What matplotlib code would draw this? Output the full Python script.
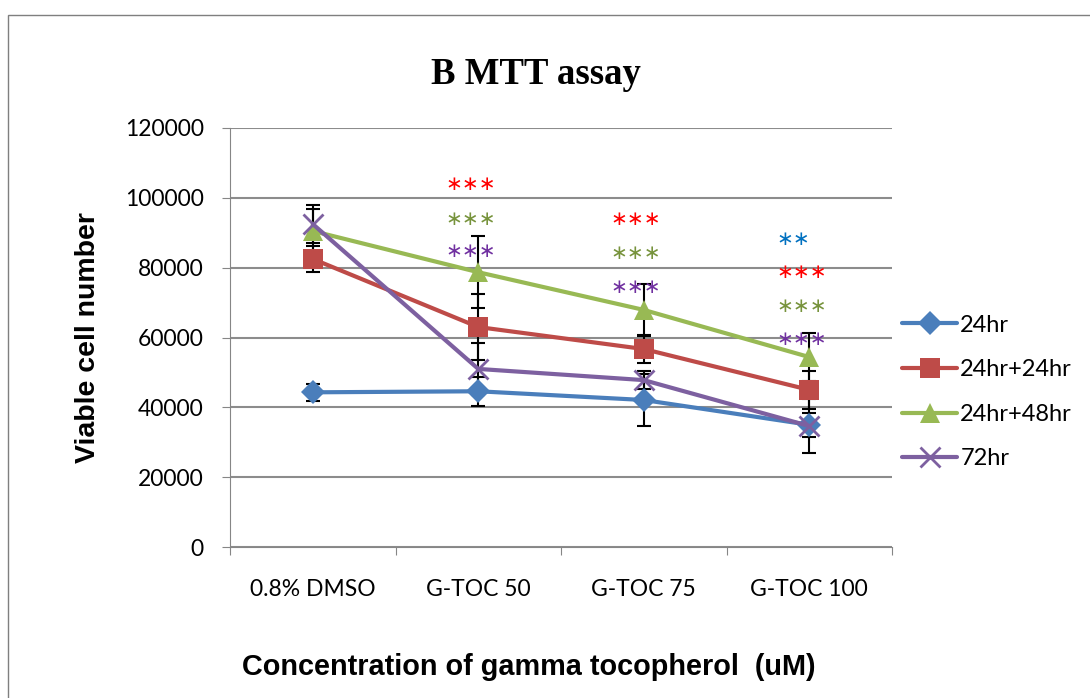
import matplotlib.pyplot as plt
from matplotlib.patches import Rectangle

categories = ["0.8% DMSO", "G-TOC 50", "G-TOC 75", "G-TOC 100"]
series_names = ["24hr", "24hr+24hr", "24hr+48hr", "72hr"]
vals_24 = [44300, 44600, 42100, 35000]
vals_24_24 = [82500, 63000, 56700, 45000]
vals_24_48 = [90500, 78700, 67900, 54400]
vals_72 = [92500, 51000, 47800, 34650]
err_24 = [2500, 4200, 7400, 3500]
err_24_24 = [3700, 9500, 4000, 5400]
err_24_48 = [6300, 10300, 7400, 6900]
err_72 = [5400, 7400, 2500, 7700]

# significance marks: (category index, y, text, colour)
stars_x = [1, 1, 1, 2, 2, 2, 3, 3, 3, 3]
stars_y = [103700, 93900, 84500, 93900, 84200, 74200, 88200, 78500, 69000, 59300]
stars_txt = ["\u2217\u2217\u2217"] * 6 + ["\u2217\u2217"] + ["\u2217\u2217\u2217"] * 3
stars_col = ["#FF0000", "#77933C", "#7030A0", "#FF0000", "#77933C", "#7030A0",
             "#0070C0", "#FF0000", "#77933C", "#7030A0"]


def main():
    fig = plt.figure(figsize=(10.9, 6.98), dpi=100)
    fig.patches.append(Rectangle((8 / 1090, -0.1), 1.2, 1 - 15 / 698 + 0.1,
                                 transform=fig.transFigure, fill=False,
                                 edgecolor="#7F7F7F", linewidth=1.0))
    ax = fig.add_axes([230 / 1090, 1 - 547 / 698, 662 / 1090, 419 / 698])

    x = range(len(categories))
    styles = [
        (vals_24, err_24, "#4A7EBB", "D", 12),
        (vals_24_24, err_24_24, "#BE4B48", "s", 14),
        (vals_24_48, err_24_48, "#98B954", "^", 15),
        (vals_72, err_72, "#7D60A0", "x", 14),
    ]
    for (vals, errs, col, mk, ms), name in zip(styles, series_names):
        ax.errorbar(x, vals, yerr=errs, fmt="none", ecolor="black",
                    elinewidth=1.5, capsize=5, capthick=1.5, zorder=3)
        ax.plot(x, vals, color=col, linewidth=3, marker=mk, markersize=ms,
                markeredgewidth=2 if mk == "x" else 0, markeredgecolor=col,
                label=name, zorder=4, solid_capstyle="round")

    for cx, cy, t, c in zip(stars_x, stars_y, stars_txt, stars_col):
        ax.text(cx - 0.2, cy, t, color=c, ha="left", va="center",
                fontsize=14.5, family="DejaVu Sans", zorder=5)

    ax.set_xlim(-0.5, 3.5)
    ax.set_ylim(0, 120000)
    ax.set_yticks(range(0, 120001, 20000))
    ax.set_xticks([-0.5, 0.5, 1.5, 2.5, 3.5])
    ax.set_xticklabels([])
    ax.set_xticks(list(x), minor=True)
    ax.set_xticklabels(categories, minor=True, fontsize=16.5, family="Lato")
    ax.tick_params(axis="x", which="minor", length=0, pad=23)
    ax.tick_params(axis="x", which="major", length=6, color="#868686")
    ax.tick_params(axis="y", length=6, color="#868686", labelsize=16.5, pad=13)
    for lbl in ax.get_yticklabels():
        lbl.set_family("Lato")
    ax.grid(True, axis="y", color="#8C8C8C", linewidth=1.5)
    ax.set_axisbelow(True)
    for s in ["top", "right"]:
        ax.spines[s].set_visible(False)
    ax.spines["left"].set_color("#868686")
    ax.spines["bottom"].set_color("#868686")

    fig.text(88 / 1090, 1 - 338 / 698, "Viable cell number", fontsize=20.5,
             fontweight="bold", family="Liberation Sans", rotation=90,
             ha="center", va="center")
    fig.text(529 / 1090, 1 - 667 / 698, "Concentration of gamma tocopherol  (uM)",
             fontsize=20.8, fontweight="bold", family="Liberation Sans",
             ha="center", va="center")
    fig.text(536 / 1090, 1 - 75 / 698, "B MTT assay", fontsize=26.5,
             fontweight="bold", family="Liberation Serif", ha="center", va="center")

    ax.legend(loc="center left", bbox_to_anchor=(893 / 1090, 1 - 392 / 698),
              bbox_transform=fig.transFigure, frameon=False,
              prop={"family": "Lato", "size": 17}, handlelength=2.3,
              labelspacing=1.0, handletextpad=0.15, borderaxespad=0.0)

    plt.savefig("out.png", dpi=100)


if __name__ == "__main__":
    main()
